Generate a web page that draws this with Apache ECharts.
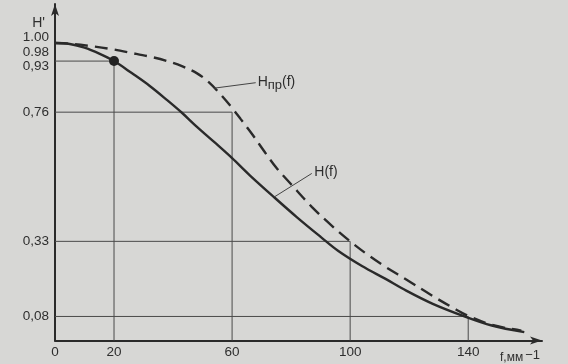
<!DOCTYPE html>
<html><head><meta charset="utf-8">
<script src="https://cdn.jsdelivr.net/npm/echarts@6/dist/echarts.min.js"></script>
<style>html,body{margin:0;padding:0;background:#d7d7d5}#c{width:568px;height:364px}</style>
</head><body><div id="c"></div>
<script>
// H(f) — solid curve
const fH = [0, 5, 10, 15, 20, 26, 32, 38, 43, 48, 54, 60, 66, 74, 82, 90, 96, 104, 112, 119, 128, 138, 148, 159];
const vH = [0.99, 0.987, 0.975, 0.955, 0.93, 0.89, 0.848, 0.80, 0.758, 0.712, 0.66, 0.607, 0.55, 0.479, 0.41, 0.345, 0.298, 0.248, 0.205, 0.166, 0.122, 0.083, 0.05, 0.028];
// Hпр(f) — dashed curve
const fHp = [0, 6, 12, 19, 26, 33, 38, 43, 48, 52, 56, 60, 63, 67, 71, 75, 80, 87, 94, 100, 106, 112, 119, 128, 135, 140, 148, 158];
const vHp = [0.99, 0.987, 0.98, 0.97, 0.957, 0.943, 0.93, 0.913, 0.89, 0.861, 0.82, 0.774, 0.736, 0.684, 0.628, 0.575, 0.52, 0.445, 0.38, 0.33, 0.285, 0.245, 0.203, 0.148, 0.108, 0.082, 0.052, 0.033];
// reference drop lines
const refF = [20, 60, 100, 140];
const refV = [0.93, 0.76, 0.33, 0.08];
// tick labels
const xTicks = [0, 20, 60, 100, 140];
const yTicks = [0.08, 0.33, 0.76, 0.93, 0.98, 1.00];
const yTickLabels = ['0,08', '0,33', '0,76', '0,93', '0.98', '1.00'];
const yLabelShift = ['c', 'c', 'c', 'd5', 'd6', 'u3'];

const ink = '#2a2a2a';
const txt = '#2e2e2e';
const font = 'Liberation Sans';

const zip = (a, b) => a.map((x, i) => [x, b[i]]);

const refSeries = refF.map((f, i) => ({
  type: 'line', silent: true, symbol: 'none', z: 1,
  data: [[0, refV[i]], [f, refV[i]], [f, 0]],
  lineStyle: { color: '#4a4a4a', width: 1 }
}));

const chart = echarts.init(document.getElementById('c'), null, { renderer: 'canvas' });
chart.setOption({
  backgroundColor: '#d7d7d5',
  animation: false,
  grid: { left: 55, right: 26, top: 4, bottom: 22, containLabel: false },
  xAxis: {
    type: 'value', min: 0, max: 165,
    axisLine: { show: true, symbol: ['none', 'arrow'], symbolSize: [6, 12], lineStyle: { color: ink, width: 2 } },
    axisTick: { show: false },
    splitLine: { show: false },
    axisLabel: { customValues: xTicks, color: txt, fontFamily: font, fontSize: 13.5, margin: 5 },
    name: 'f,мм{s|−1}', nameLocation: 'end', nameGap: -2,
    nameTextStyle: { color: txt, fontFamily: font, fontSize: 12, align: 'right', verticalAlign: 'top', padding: [8, 0, 0, 0],
      rich: { s: { fontSize: 13, fontFamily: font, color: txt, padding: [0, 0, 6, 2] } } }
  },
  yAxis: {
    type: 'value', min: 0, max: 1.12,
    axisLine: { show: true, symbol: ['none', 'arrow'], symbolSize: [6, 12], lineStyle: { color: ink, width: 2 } },
    axisTick: { show: false },
    splitLine: { show: false },
    axisLabel: {
      customValues: yTicks, color: txt, fontFamily: font, fontSize: 13.5, margin: 6,
      formatter: v => { const i = yTicks.findIndex(t => Math.abs(t - v) < 1e-6); return '{' + yLabelShift[i] + '|' + yTickLabels[i] + '}'; },
      rich: {
        c: { fontFamily: font, fontSize: 13.5, color: txt },
        d5: { fontFamily: font, fontSize: 13.5, color: txt, padding: [10, 0, 0, 0] },
        d6: { fontFamily: font, fontSize: 13.5, color: txt, padding: [12, 0, 0, 0] },
        u3: { fontFamily: font, fontSize: 13.5, color: txt, padding: [0, 0, 6, 0] }
      }
    },
    name: "H'", nameLocation: 'end', nameGap: -28,
    nameTextStyle: { color: txt, fontFamily: font, fontSize: 14, align: 'right', padding: [0, 10, 0, 0] }
  },
  series: [
    ...refSeries,
    {
      name: 'H(f)', type: 'line', smooth: 0.35, symbol: 'none', z: 3,
      data: zip(fH, vH),
      lineStyle: { color: ink, width: 2.4 },
      markPoint: {
        symbol: 'circle', symbolSize: 10, itemStyle: { color: '#222' }, label: { show: false },
        data: [{ coord: [refF[0], refV[0]] }]
      },
      markLine: {
        silent: true, symbol: 'none',
        lineStyle: { color: '#444', width: 1, type: 'solid' },
        label: { show: true, position: 'end', formatter: 'H(f)', color: txt, fontFamily: font, fontSize: 14, distance: 3 },
        data: [[{ coord: [74.5, 0.479] }, { coord: [87, 0.556] }]]
      }
    },
    {
      name: 'Hпр(f)', type: 'line', smooth: 0.35, symbol: 'none', z: 3,
      data: zip(fHp, vHp),
      lineStyle: { color: ink, width: 2.4, type: [13, 7] },
      markLine: {
        silent: true, symbol: 'none',
        lineStyle: { color: '#444', width: 1, type: 'solid' },
        label: { show: true, position: 'end', formatter: 'H{s|пр}(f)', color: txt, fontFamily: font, fontSize: 14, distance: 2,
          rich: { s: { fontSize: 13, fontFamily: font, color: txt, padding: [6, 0, 0, 0] } } },
        data: [[{ coord: [54, 0.84] }, { coord: [68, 0.858] }]]
      }
    }
  ]
});
</script>
</body></html>
